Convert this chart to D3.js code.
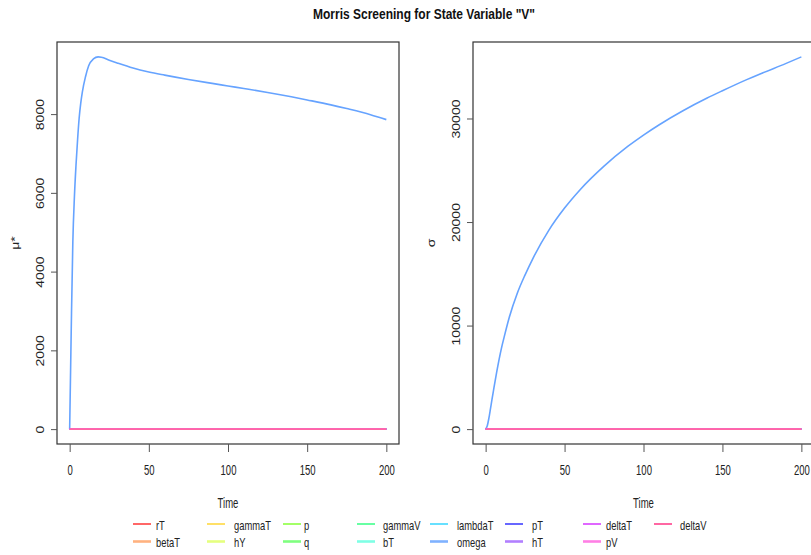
<!DOCTYPE html>
<html><head><meta charset="utf-8">
<script src="https://cdn.jsdelivr.net/npm/d3@7"></script>
<style>body{margin:0;background:#fff}svg{display:block}text{font-family:"Liberation Sans",Arial,sans-serif}</style>
</head><body><svg id="c" width="811" height="555"></svg>
<script>
// ---------------- data ----------------
const title = 'Morris Screening for State Variable "V"';
const params = ["rT","betaT","gammaT","hY","p","q","gammaV","bT","lambdaT","omega","pT","hT","deltaT","pV","deltaV"];
// omega is the only parameter with non-zero effect
const timeMu = [0,1,2,3,4,5,6,7,8,10,12,15,18,20,25,30,40,50,60,75,90,100,110,125,140,150,165,175,190,200];
const muOmega = [0,2550,4750,5900,6700,7350,7900,8280,8560,8950,9230,9400,9453,9445,9370,9300,9170,9070,8990,8880,8780,8715,8650,8550,8440,8360,8235,8140,7985,7860];
const timeSigma = [0,1,2,3,4,5,7,10,12,15,20,25,30,40,50,60,75,90,100,110,125,140,150,165,175,190,200];
const sigmaOmega = [0,300,1000,1900,2850,3750,5500,7800,9050,10800,13100,14900,16500,19200,21350,23150,25400,27300,28400,29400,30750,31950,32680,33730,34380,35300,35950];
// all other parameters stay at 0 over the whole time range
const flatTime = [0, 200];
const flatValue = [0, 0];
const xTicks = [0,50,100,150,200];
const muTicks = [0,2000,4000,6000,8000];
const sigmaTicks = [0,10000,20000,30000];
const xLabel = "Time";
const muLabel = "μ*";
const sigmaLabel = "σ";

// ---------------- drawing ----------------
const svg = d3.select("#c");
const colors = params.map((p,i)=>d3.hsl(i*360/params.length,1,0.5).formatHex());
const styleOf = i => i%2===0 ? {w:1.2, o:1} : {w:2.6, o:0.5};
const plotColor = c => d3.interpolateRgb(c, "#ffffff")(0.4);

function seriesFor(times, values){
  return params.map((p,i)=> p==="omega"
    ? times.map((t,k)=>({t, v:values[k]}))
    : flatTime.map((t,k)=>({t, v:flatValue[k]})));
}

function txt(parent, str, x, y, o){
  const sx = o.sx ?? 0.7;
  return parent.append("text")
    .attr("transform", `translate(${x},${y}) scale(${sx},1)` + (o.rot? " rotate(-90)":""))
    .attr("text-anchor", o.anchor || "middle")
    .attr("font-size", o.size || 14)
    .attr("font-weight", o.bold? "bold": null)
    .attr("fill", o.fill || "#222")
    .text(str);
}

function panel(box, times, series, yTicks, yLab){
  const g = svg.append("g");
  const tExt = d3.extent(times), tPad = 0.04*(tExt[1]-tExt[0]);
  const x = d3.scaleLinear().domain([tExt[0]-tPad, tExt[1]+tPad]).range([box.l, box.r]);
  const allV = series.flat().map(d=>d.v);
  const vExt = d3.extent(allV), vPad = 0.04*(vExt[1]-vExt[0]);
  const y = d3.scaleLinear().domain([vExt[0]-vPad, vExt[1]+vPad]).range([box.b, box.t]);

  const line = d3.line().x(d=>x(d.t)).y(d=>y(d.v)).curve(d3.curveMonotoneX);
  series.forEach((s,i)=>{
    g.append("path").attr("d", line(s)).attr("fill","none")
      .attr("stroke", plotColor(colors[i])).attr("stroke-width", 1.6)
      .attr("stroke-linejoin","round");
  });

  g.append("rect").attr("x",box.l).attr("y",box.t).attr("width",box.r-box.l).attr("height",box.b-box.t)
    .attr("fill","none").attr("stroke","#333").attr("stroke-width",1.2);

  const ax = g.append("g").attr("transform",`translate(0,${box.b})`)
    .call(d3.axisBottom(x).tickValues(xTicks).tickSize(8).tickPadding(13).tickFormat(d3.format("d")));
  ax.select(".domain").remove();
  ax.attr("font-size",null).attr("font-family",null);
  ax.selectAll(".tick line").attr("stroke","#555");
  ax.selectAll(".tick text").attr("font-size",14).attr("fill","#222").attr("transform","scale(0.68,1)");

  const ay = g.append("g").attr("transform",`translate(${box.l},0)`)
    .call(d3.axisLeft(y).tickValues(yTicks).tickSize(6).tickFormat(d3.format("d")));
  ay.select(".domain").remove();
  ay.attr("font-size",null).attr("font-family",null);
  ay.selectAll(".tick line").attr("stroke","#555");
  ay.selectAll(".tick text").attr("x",null).attr("dy",null).attr("text-anchor","middle")
    .attr("font-size",14).attr("fill","#222")
    .attr("transform","translate(-13,0) scale(0.78,1) rotate(-90)");

  txt(g, xLabel, (box.l+box.r)/2, 508, {sx:0.68});
  txt(g, yLab, box.l-38, (box.t+box.b)/2, {sx:0.78, rot:true});
}

panel({l:57, r:399, t:42, b:444}, timeMu, seriesFor(timeMu, muOmega), muTicks, muLabel);
panel({l:473, r:814, t:42, b:444}, timeSigma, seriesFor(timeSigma, sigmaOmega), sigmaTicks, sigmaLabel);

txt(svg, title, 424, 19, {size:15, bold:true, sx:0.8, fill:"#111"});

// legend (column-wise, 2 rows)
const legLineX = [133, 207, 283, 357, 430, 505, 583, 654];
const legTextX = [156, 234, 304, 383, 457, 532, 606, 680];
const legRowY = [524, 541.5];
const leg = svg.append("g");
params.forEach((p,i)=>{
  const c = Math.floor(i/2), r = i%2, st = styleOf(i);
  leg.append("line").attr("x1",legLineX[c]).attr("x2",legLineX[c]+18)
    .attr("y1",legRowY[r]).attr("y2",legRowY[r])
    .attr("stroke",colors[i]).attr("stroke-opacity",st.o).attr("stroke-width",st.w);
  txt(leg, p, legTextX[c], legRowY[r]+5.5, {size:13, sx:0.72, anchor:"start"});
});
</script></body></html>
